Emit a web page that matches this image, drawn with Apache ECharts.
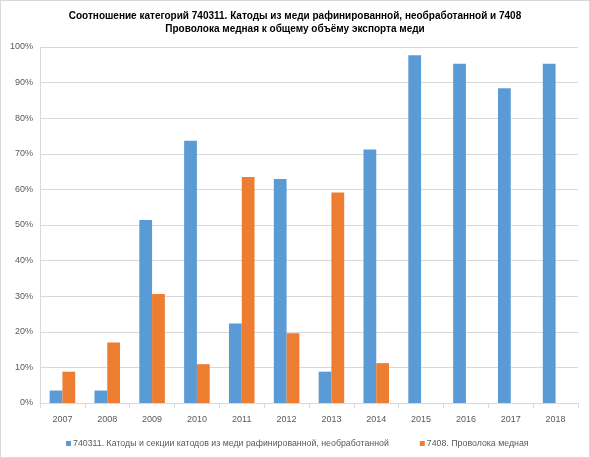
<!DOCTYPE html>
<html><head><meta charset="utf-8">
<script src="https://cdn.jsdelivr.net/npm/echarts@6/dist/echarts.min.js"></script>
<style>html,body{margin:0;padding:0;background:#fff}#c{width:588px;height:456px;border:1px solid #d9d9d9}</style>
</head><body><div id="c"></div>
<script>
var categories = ['2007','2008','2009','2010','2011','2012','2013','2014','2015','2016','2017','2018'];
var seriesNames = ['740311. Катоды и секции катодов из меди рафинированной, необработанной', '7408. Проволока медная'];
var cathodes = [3.5, 3.5, 51.4, 73.7, 22.3, 62.9, 8.8, 71.2, 97.7, 95.3, 88.4, 95.3];
var wire = [8.8, 17.0, 30.6, 10.9, 63.5, 19.6, 59.1, 11.2, null, null, null, null];
var titleText = 'Соотношение категорий 740311. Катоды из меди рафинированной, необработанной и 7408\nПроволока медная к общему объёму экспорта меди';

var chart = echarts.init(document.getElementById('c'));
var font = 'Liberation Sans';
chart.setOption({
  animation: false,
  textStyle: {fontFamily: font},
  title: {text: titleText, left: 'center', top: 4,
    textStyle: {fontFamily: font, fontSize: 10, fontWeight: 'bold', color: '#000', lineHeight: 13}},
  grid: {left: 39, right: 11, top: 46, bottom: 54},
  legend: {left: 60, bottom: 4, icon: 'rect', itemWidth: 5, itemHeight: 5, itemGap: 31,
    textStyle: {fontFamily: font, fontSize: 8.8, color: '#595959', padding: [0,0,0,-3]},
    data: seriesNames},
  xAxis: {type: 'category', data: categories,
    axisLine: {lineStyle: {color: '#d9d9d9'}},
    axisTick: {show: true, length: 5, lineStyle: {color: '#d9d9d9'}},
    axisLabel: {color: '#595959', fontSize: 9, margin: 12}},
  yAxis: {type: 'value', min: 0, max: 100, interval: 10,
    axisLine: {show: true, lineStyle: {color: '#d9d9d9'}},
    axisTick: {show: false},
    splitLine: {lineStyle: {color: '#d9d9d9'}},
    axisLabel: {color: '#595959', fontSize: 9, margin: 7, formatter: '{value}%'}},
  series: [
    {name: seriesNames[0], type: 'bar', data: cathodes, barGap: '0%', barCategoryGap: '43%',
      itemStyle: {color: '#5b9bd5'}},
    {name: seriesNames[1], type: 'bar', data: wire, barGap: '0%', barCategoryGap: '43%',
      itemStyle: {color: '#ed7d31'}}
  ]
});
</script></body></html>
